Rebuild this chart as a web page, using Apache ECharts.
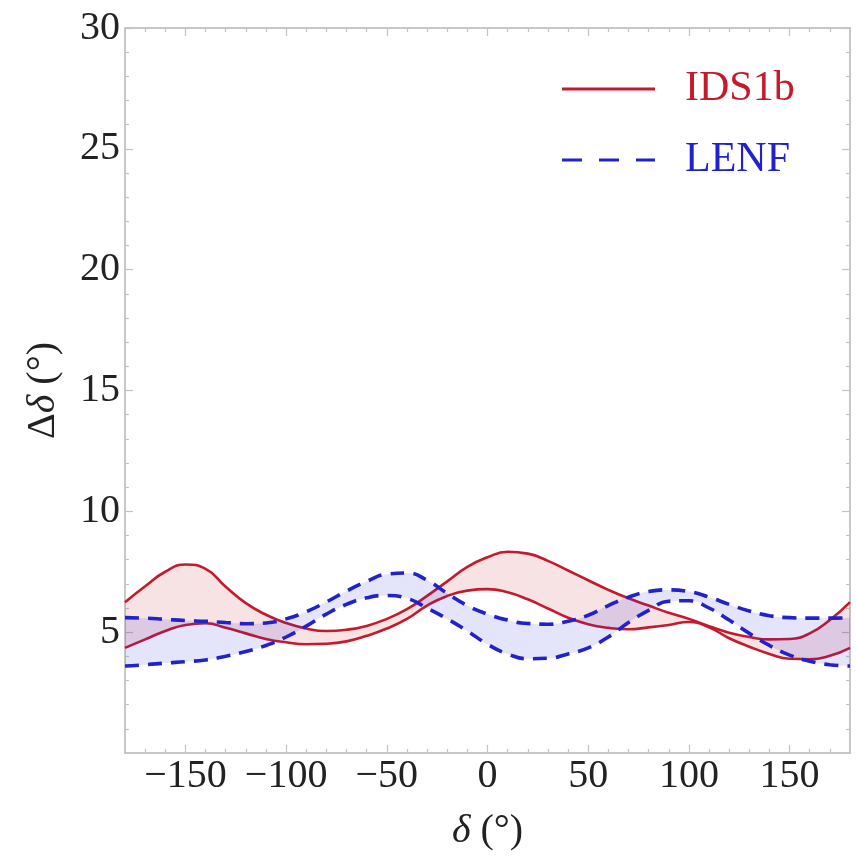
<!DOCTYPE html>
<html>
<head>
<meta charset="utf-8">
<script src="https://cdn.jsdelivr.net/npm/echarts@6/dist/echarts.min.js"></script>
<style>
html,body{margin:0;padding:0;background:#fff;}
#chart{width:856px;height:862px;}
</style>
</head>
<body>
<div id="chart"></div>
<script>
// δ sample positions (degrees)
const deltaX = [-180,-170,-160,-150,-140,-130,-120,-110,-100,-90,-80,-70,-60,-50,-40,-30,-20,-10,0,10,20,30,40,50,60,70,80,90,100,110,120,130,140,150,160,170,180];
// IDS1b band: upper and lower edges (Δδ, degrees)
const ids1bUpper = [6.24,6.9,7.5,7.8,7.62,6.88,6.2,5.72,5.38,5.15,5.05,5.1,5.26,5.55,5.95,6.5,7.1,7.7,8.1,8.33,8.25,7.95,7.55,7.15,6.75,6.4,6.1,5.8,5.55,5.25,4.98,4.8,4.7,4.72,4.95,5.5,6.24];
const ids1bLower = [4.35,4.7,5.05,5.3,5.37,5.18,4.95,4.72,4.58,4.5,4.52,4.62,4.85,5.15,5.55,6.1,6.5,6.72,6.78,6.65,6.36,5.98,5.6,5.33,5.18,5.12,5.2,5.3,5.42,5.2,4.75,4.4,4.1,3.9,3.88,4.02,4.35];
// LENF band: upper and lower edges
const lenfUpper = [5.6,5.58,5.53,5.48,5.45,5.4,5.35,5.38,5.55,5.85,6.25,6.7,7.1,7.4,7.45,7.15,6.6,6.1,5.75,5.5,5.36,5.33,5.45,5.7,6.1,6.45,6.68,6.75,6.68,6.45,6.15,5.88,5.68,5.6,5.58,5.58,5.6];
const lenfLower = [3.6,3.65,3.72,3.78,3.85,4.0,4.2,4.45,4.8,5.25,5.75,6.15,6.42,6.52,6.4,6.0,5.55,5.05,4.5,4.1,3.9,3.92,4.1,4.35,4.8,5.4,5.9,6.28,6.3,6.0,5.5,4.95,4.45,4.05,3.8,3.65,3.6];
// tick values
const xMajorTicks = [-150,-100,-50,0,50,100,150];
const yMajorTicks = [5,10,15,20,25,30];

const xMinorTicks = [];
for (let v = -170; v <= 170; v += 10) if (v % 50 !== 0) xMinorTicks.push(v);
const yMinorTicks = [];
for (let v = 1; v < 30; v++) if (v % 5 !== 0) yMinorTicks.push(v);

const RED = '#c41b2c';
const BLUE = '#2222cc';
const FRAME = '#c4c4c4';
const FONT = '"Liberation Serif", "DejaVu Serif", serif';

function diff(up, lo) { return up.map((u, i) => +(u - lo[i]).toFixed(3)); }

function xAx(pos, ticks, len, labels) {
  return {
    type: 'value', position: pos, min: -180, max: 180,
    axisLine: { show: true, onZero: false, lineStyle: { color: FRAME, width: 1.5 } },
    axisTick: { show: true, inside: true, length: len, customValues: ticks, lineStyle: { color: FRAME, width: 1.2 } },
    axisLabel: labels ? {
      show: true, customValues: ticks, margin: 3, color: '#222', fontSize: 40, fontFamily: FONT,
      formatter: v => String(v).replace('-', '\u2212')
    } : { show: false },
    splitLine: { show: false }
  };
}
function yAx(pos, ticks, len, labels) {
  return {
    type: 'value', position: pos, min: 0, max: 30,
    axisLine: { show: true, onZero: false, lineStyle: { color: FRAME, width: 1.5 } },
    axisTick: { show: true, inside: true, length: len, customValues: ticks, lineStyle: { color: FRAME, width: 1.2 } },
    axisLabel: labels ? {
      show: true, customValues: ticks, margin: 5, color: '#222', fontSize: 40, fontFamily: FONT
    } : { show: false },
    splitLine: { show: false }
  };
}

const xAxes = [xAx('bottom', xMajorTicks, 8, true), xAx('bottom', xMinorTicks, 4, false), xAx('top', xMajorTicks, 8, false), xAx('top', xMinorTicks, 4, false)];
xAxes[0].name = '{i|δ} (°)';
xAxes[0].nameLocation = 'middle';
xAxes[0].nameGap = 58;
xAxes[0].nameTextStyle = { fontSize: 40, fontFamily: FONT, color: '#222', rich: { i: { fontStyle: 'italic', fontSize: 40, fontFamily: FONT, color: '#222' } } };
// hidden category axis carrying the sampled δ positions (evenly spaced, -180..180)
xAxes.push({ type: 'category', data: deltaX.map(String), boundaryGap: false, show: false, position: 'bottom' });

const yAxes = [yAx('left', yMajorTicks, 8, true), yAx('left', yMinorTicks, 4, false), yAx('right', yMajorTicks, 8, false), yAx('right', yMinorTicks, 4, false)];
yAxes[0].name = 'Δ{i|δ} (°)';
yAxes[0].nameLocation = 'middle';
yAxes[0].nameRotate = 90;
yAxes[0].nameGap = 62;
yAxes[0].nameTextStyle = { fontSize: 40, fontFamily: FONT, color: '#222', rich: { i: { fontStyle: 'italic', fontSize: 40, fontFamily: FONT, color: '#222' } } };

const SMOOTH = 0.5;
const CAT = 4;
const option = {
  animation: false,
  backgroundColor: '#fff',
  grid: { left: 125, top: 28, width: 725, height: 725, containLabel: false },
  xAxis: xAxes,
  yAxis: yAxes,
  legend: {
    orient: 'vertical', left: 557, top: 63, itemWidth: 93, itemHeight: 3, itemGap: 29,
    textStyle: { fontSize: 42, fontFamily: FONT, padding: [0, 0, 0, 25] },
    data: [
      { name: 'IDS1b', icon: 'rect', textStyle: { color: RED } },
      { name: 'LENF', icon: 'path://M0,0h20v3h-20z M37,0h20v3h-20z M74,0h19v3h-19z', textStyle: { color: BLUE } }
    ]
  },
  series: [
    { name: 'IDS1b', type: 'line', xAxisIndex: CAT, yAxisIndex: 0, smooth: SMOOTH, symbol: 'none', stack: 'ids', data: ids1bLower,
      lineStyle: { color: RED, width: 2.6 }, itemStyle: { color: RED }, z: 2 },
    { name: 'IDS1b band', type: 'line', xAxisIndex: CAT, yAxisIndex: 0, smooth: SMOOTH, symbol: 'none', stack: 'ids', data: diff(ids1bUpper, ids1bLower),
      lineStyle: { color: RED, width: 2.6 }, itemStyle: { color: RED }, areaStyle: { color: 'rgba(190,25,40,0.18)' }, z: 2 },
    { name: 'LENF', type: 'line', xAxisIndex: CAT, yAxisIndex: 0, smooth: SMOOTH, symbol: 'none', stack: 'lenf', data: lenfLower,
      lineStyle: { color: BLUE, width: 3.6, type: [14, 9] }, itemStyle: { color: BLUE }, z: 3 },
    { name: 'LENF band', type: 'line', xAxisIndex: CAT, yAxisIndex: 0, smooth: SMOOTH, symbol: 'none', stack: 'lenf', data: diff(lenfUpper, lenfLower),
      lineStyle: { color: BLUE, width: 3.6, type: [14, 9] }, itemStyle: { color: BLUE }, areaStyle: { color: 'rgba(40,40,215,0.18)' }, z: 3 }
  ]
};
const chart = echarts.init(document.getElementById('chart'), null, { renderer: 'canvas' });
chart.setOption(option);
</script>
</body>
</html>
